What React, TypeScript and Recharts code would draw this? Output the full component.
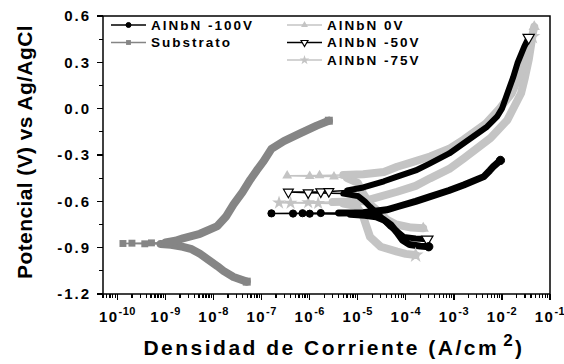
import React from 'react';
import { LineChart, Line, XAxis, YAxis, Symbols } from 'recharts';

type Pt = [number, number]; // [current density A/cm2, potential V]

// Substrato
const subCat: Pt[] = [
  [4.9e-8, -1.12], [2.6e-8, -1.09], [1.6e-8, -1.05], [1.2e-8, -1.02], [7.9e-9, -0.98],
  [5.2e-9, -0.94], [3.5e-9, -0.91], [2.3e-9, -0.895], [1.3e-9, -0.882], [7.9e-10, -0.876],
];
const subEcorr: Pt[] = [[3.7e-10, -0.875], [1.3e-10, -0.873], [2.0e-10, -0.871], [5.1e-10, -0.869]];
const subAno: Pt[] = [
  [1.0e-9, -0.866], [1.6e-9, -0.855], [2.3e-9, -0.84], [5.2e-9, -0.81], [1.2e-8, -0.76],
  [1.8e-8, -0.7], [2.6e-8, -0.62], [4.0e-8, -0.54], [5.8e-8, -0.46], [7.9e-8, -0.4],
  [1.1e-7, -0.34], [1.6e-7, -0.26], [2.9e-7, -0.21], [6.3e-7, -0.16], [1.4e-6, -0.11], [2.5e-6, -0.078],
];

// AlNbN -100V
const v100Cat: Pt[] = [
  [3.0e-4, -0.894], [2.0e-4, -0.89], [1.2e-4, -0.88], [8.5e-5, -0.85], [6.5e-5, -0.8],
  [4.8e-5, -0.75], [3.5e-5, -0.72], [2.4e-5, -0.7], [1.4e-5, -0.69], [7.0e-6, -0.684],
];
const v100Ecorr: Pt[] = [[1.0e-6, -0.68], [4.5e-7, -0.679], [1.6e-7, -0.678], [7.1e-7, -0.677], [1.7e-6, -0.676]];
const v100Ano: Pt[] = [
  [4.0e-6, -0.675], [1.3e-5, -0.674], [4.0e-5, -0.655], [6.6e-5, -0.635], [1.6e-4, -0.6],
  [3.2e-4, -0.57], [7.9e-4, -0.53], [1.6e-3, -0.494], [4.2e-3, -0.44], [5.6e-3, -0.4],
  [6.6e-3, -0.376], [9.3e-3, -0.335],
];

// AlNbN -50V
const v50Cat: Pt[] = [
  [2.8e-4, -0.846], [1.6e-4, -0.84], [9.0e-5, -0.83], [6.3e-5, -0.79], [4.8e-5, -0.764],
  [3.0e-5, -0.7], [1.8e-5, -0.635], [1.4e-5, -0.6], [1.0e-5, -0.565], [5.0e-6, -0.55],
];
const v50Ecorr: Pt[] = [[9.3e-7, -0.544], [3.6e-7, -0.54], [1.7e-6, -0.538], [2.5e-6, -0.536]];
const v50Ano: Pt[] = [
  [6.0e-6, -0.53], [1.3e-5, -0.51], [3.5e-5, -0.47], [6.6e-5, -0.44], [1.6e-4, -0.4],
  [3.2e-4, -0.354], [8.0e-4, -0.29], [1.6e-3, -0.224], [4.9e-3, -0.117], [7.9e-3, -0.052],
  [1.0e-2, 0.0], [1.3e-2, 0.1], [1.7e-2, 0.2], [2.1e-2, 0.294], [2.9e-2, 0.4], [3.6e-2, 0.46],
];

// AlNbN 0V
const v0Cat: Pt[] = [
  [2.3e-4, -0.775], [1.3e-4, -0.77], [6.3e-5, -0.75], [4.1e-5, -0.72], [2.8e-5, -0.67],
  [1.8e-5, -0.62], [1.3e-5, -0.55], [1.0e-5, -0.48], [6.0e-6, -0.45],
];
const v0Ecorr: Pt[] = [[3.2e-6, -0.44], [1.0e-6, -0.437], [3.4e-7, -0.434], [1.6e-6, -0.432]];
const v0Ano: Pt[] = [
  [5.0e-6, -0.43], [1.3e-5, -0.425], [3.5e-5, -0.41], [6.6e-5, -0.376], [1.6e-4, -0.34],
  [3.2e-4, -0.31], [8.0e-4, -0.26], [1.6e-3, -0.2], [4.5e-3, -0.1], [8.9e-3, 0.0],
  [1.6e-2, 0.1], [2.2e-2, 0.2], [3.0e-2, 0.3], [3.8e-2, 0.4], [4.7e-2, 0.53],
];

// AlNbN -75V
const v75Cat: Pt[] = [
  [1.6e-4, -0.948], [1.0e-4, -0.94], [6.6e-5, -0.926], [3.0e-5, -0.894], [1.8e-5, -0.83],
  [1.3e-5, -0.7], [9.5e-6, -0.63], [5.0e-6, -0.615],
];
const v75Ecorr: Pt[] = [[1.5e-6, -0.612], [4.0e-7, -0.611], [2.3e-7, -0.609], [9.3e-7, -0.607]];
const v75Ano: Pt[] = [
  [3.0e-6, -0.605], [1.3e-5, -0.6], [6.6e-5, -0.538], [1.6e-4, -0.5], [3.2e-4, -0.451],
  [8.0e-4, -0.39], [1.6e-3, -0.322], [5.8e-3, -0.19], [1.3e-2, -0.073], [2.5e-2, 0.1],
  [3.0e-2, 0.2], [3.6e-2, 0.315], [4.3e-2, 0.466],
];

const decades = [-11, -10, -9, -8, -7, -6, -5, -4, -3, -2, -1];
const mantissas = [1, 2, 3, 4, 5, 6, 7, 8, 9];
const yTicks = [-1.2, -1.05, -0.9, -0.75, -0.6, -0.45, -0.3, -0.15, 0, 0.15, 0.3, 0.45, 0.6];

const X_MIN = 5e-11;
const X_MAX = 0.1;
const xTicks = decades
  .flatMap((d) => mantissas.map((m) => Number((m * Math.pow(10, d)).toPrecision(3))))
  .filter((v) => v >= X_MIN * 0.999 && v <= X_MAX * 1.001);

const FONT = '"Liberation Sans", Arial, sans-serif';
const BLACK = '#000';
const GRAY = '#858585';
const LIGHT = '#c4c4c4';

const series = [
  { name: 'AlNbN -75V', cat: v75Cat, ecorr: v75Ecorr, ano: v75Ano, color: LIGHT, kind: 'star', band: 8 },
  { name: 'AlNbN 0V', cat: v0Cat, ecorr: v0Ecorr, ano: v0Ano, color: LIGHT, kind: 'up', band: 8 },
  { name: 'Substrato', cat: subCat, ecorr: subEcorr, ano: subAno, color: GRAY, kind: 'square', band: 8 },
  { name: 'AlNbN -50V', cat: v50Cat, ecorr: v50Ecorr, ano: v50Ano, color: BLACK, kind: 'down', band: 6 },
  { name: 'AlNbN -100V', cat: v100Cat, ecorr: v100Ecorr, ano: v100Ano, color: BLACK, kind: 'circle', band: 7 },
];

const legendItems = [
  { label: 'AlNbN -100V', kind: 'circle', color: BLACK, col: 0, row: 0 },
  { label: 'Substrato', kind: 'square', color: GRAY, col: 0, row: 1 },
  { label: 'AlNbN 0V', kind: 'up', color: LIGHT, col: 1, row: 0 },
  { label: 'AlNbN -50V', kind: 'down', color: BLACK, col: 1, row: 1 },
  { label: 'AlNbN -75V', kind: 'star', color: LIGHT, col: 1, row: 2 },
];

const toRows = (pts: Pt[]) => pts.map(([i, e]) => ({ i, e }));

function Marker({ kind, cx, cy, color, scale = 1 }: any) {
  if (cx == null || cy == null) return null;
  if (kind === 'circle')
    return <circle cx={cx} cy={cy} r={3.6 * scale} fill={color} stroke={color} />;
  if (kind === 'square')
    return <Symbols cx={cx} cy={cy} type="square" size={48 * scale * scale} fill={color} />;
  if (kind === 'star')
    return <Symbols cx={cx} cy={cy} type="star" size={60 * scale * scale} fill={color} />;
  if (kind === 'up')
    return <Symbols cx={cx} cy={cy} type="triangle" size={42 * scale * scale} fill={color} />;
  return (
    <g transform={`rotate(180 ${cx} ${cy})`}>
      <Symbols cx={cx} cy={cy} type="triangle" size={42 * scale * scale} fill="#fff" stroke="#000" strokeWidth={1.2} />
    </g>
  );
}

const dotAt = (kind: string, color: string, which: 'all' | 'first' | 'last', count: number) =>
  (p: any) => {
    const show = which === 'all' ? p.index > 0 && p.index < count - 1 : which === 'first' ? p.index === 0 : p.index === count - 1;
    if (!show) return <g key={`d${p.index}`} />;
    return <Marker key={`d${p.index}`} kind={kind} cx={p.cx} cy={p.cy} color={color} scale={which === 'all' ? 1 : 1.15} />;
  };

// Recharts draws the short tick for every value; decades get a longer one and a label
const XTick = ({ x, payload }: any) => {
  const p = Math.log10(payload.value);
  const major = Math.abs(p - Math.round(p)) < 1e-6;
  if (!major) return <g />;
  return (
    <g>
      <line x1={x} x2={x} y1={294} y2={300} stroke="#000" strokeWidth={1.3} shapeRendering="crispEdges" />
      <text x={x} y={322} textAnchor="middle" fontFamily={FONT} fontWeight="bold" fontSize={15} letterSpacing={1.5} fill="#000">
        <tspan>10</tspan>
        <tspan dy={-7} fontSize={11} letterSpacing={0.5}>{Math.round(p)}</tspan>
      </text>
    </g>
  );
};

const YTick = ({ y, payload }: any) => {
  const v = payload.value;
  const major = Math.abs(v / 0.3 - Math.round(v / 0.3)) < 1e-6;
  if (!major) return <g />;
  return (
    <g>
      <line x1={103} x2={97} y1={y} y2={y} stroke="#000" strokeWidth={1.3} shapeRendering="crispEdges" />
      <text x={91} y={y} dy="0.36em" textAnchor="end" fontFamily={FONT} fontWeight="bold" fontSize={15} letterSpacing={2} fill="#000">
        {v.toFixed(1)}
      </text>
    </g>
  );
};

const tickLineStyle = { stroke: '#000', strokeWidth: 1.3, shapeRendering: 'crispEdges' };

export default function App() {
  const plot = { left: 103, top: 16, right: 550, bottom: 294 };
  return (
    <div style={{ position: 'absolute', left: 0, top: 0, width: 564, height: 364, background: '#fff' }}>
      <LineChart width={564} height={364} margin={{ top: 16, right: 14, left: 0, bottom: 0 }}>
        <XAxis
          dataKey="i"
          type="number"
          scale="log"
          domain={[X_MIN, X_MAX]}
          allowDataOverflow
          ticks={xTicks}
          interval={0}
          tick={<XTick />}
          tickLine={tickLineStyle}
          tickSize={4}
          height={70}
          axisLine={{ stroke: '#000', strokeWidth: 1.5 }}
        />
        <YAxis
          dataKey="e"
          type="number"
          domain={[-1.2, 0.6]}
          allowDataOverflow
          ticks={yTicks}
          interval={0}
          tick={<YTick />}
          tickLine={tickLineStyle}
          tickSize={4}
          width={103}
          axisLine={{ stroke: '#000', strokeWidth: 1.5 }}
        />
        {series.flatMap((s) => {
          const thin = [s.cat[s.cat.length - 1], ...s.ecorr, s.ano[0]];
          return [
            <Line
              key={`${s.name}-cat`}
              data={toRows(s.cat)}
              dataKey="e"
              type="linear"
              stroke={s.color}
              strokeWidth={s.band}
              strokeLinecap="round"
              strokeLinejoin="round"
              dot={dotAt(s.kind, s.color, 'first', s.cat.length)}
              activeDot={false}
              isAnimationActive={false}
            />,
            <Line
              key={`${s.name}-thin`}
              data={toRows(thin)}
              dataKey="e"
              type="linear"
              stroke={s.color}
              strokeWidth={1.5}
              dot={dotAt(s.kind, s.color, 'all', thin.length)}
              activeDot={false}
              isAnimationActive={false}
            />,
            <Line
              key={`${s.name}-ano`}
              data={toRows(s.ano)}
              dataKey="e"
              type="linear"
              stroke={s.color}
              strokeWidth={s.band}
              strokeLinecap="round"
              strokeLinejoin="round"
              dot={dotAt(s.kind, s.color, 'last', s.ano.length)}
              activeDot={false}
              isAnimationActive={false}
            />,
          ];
        })}
      </LineChart>

      <svg width={564} height={364} style={{ position: 'absolute', left: 0, top: 0, pointerEvents: 'none' }}>
        <polyline
          points={`${plot.left},${plot.top} ${plot.right},${plot.top} ${plot.right},${plot.bottom}`}
          fill="none"
          stroke="#000"
          strokeWidth={1.5}
        />
        {legendItems.map((it) => {
          const x0 = it.col === 0 ? 111 : 287;
          const cy = 25 + it.row * 17.5;
          return (
            <g key={it.label}>
              <line x1={x0} x2={x0 + 35} y1={cy} y2={cy} stroke={it.color} strokeWidth={1.3} />
              <Marker kind={it.kind} cx={x0 + 17.5} cy={cy} color={it.color} scale={0.7} />
              <text x={x0 + 40} y={cy} dy="0.36em" fontFamily={FONT} fontWeight="bold" fontSize={13.5} letterSpacing={2} fill="#000">
                {it.label}
              </text>
            </g>
          );
        })}
        <text
          x={32}
          y={152}
          transform="rotate(-90 32 152)"
          textAnchor="middle"
          fontFamily={FONT}
          fontWeight="bold"
          fontSize={21}
          letterSpacing={0.4}
          fill="#000"
        >
          Potencial (V) vs Ag/AgCl
        </text>
        <text x={334} y={355} textAnchor="middle" fontFamily={FONT} fontWeight="bold" fontSize={21} letterSpacing={2.5} fill="#000">
          Densidad de Corriente (A/cm
          <tspan dx={4} dy={-9} fontSize={17}>2</tspan>
          <tspan dy={9}>)</tspan>
        </text>
      </svg>
    </div>
  );
}
